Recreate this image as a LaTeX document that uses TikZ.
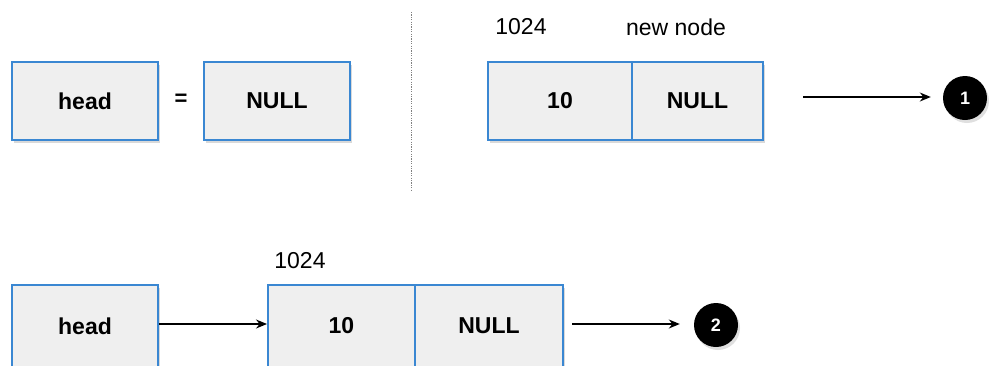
\documentclass[tikz,border=0pt]{standalone}
\usepackage{fontspec}
\setmainfont{Liberation Sans}
\usetikzlibrary{shadows,arrows.meta}
\definecolor{boxblue}{RGB}{58,135,210}
\definecolor{boxfill}{RGB}{239,239,239}
\tikzset{
  cell/.style={draw=boxblue, line width=2pt, fill=boxfill, minimum height=78pt,
    inner sep=0pt, font=\fontsize{23}{27}\selectfont\bfseries,
    drop shadow={shadow xshift=2pt, shadow yshift=-3pt, opacity=0.25, fill=black!60}},
  plain/.style={font=\fontsize{23}{27}\selectfont, inner sep=0pt},
  badge/.style={circle, fill=black, minimum size=44pt, inner sep=0pt,
    text=white, font=\fontsize{18}{20}\selectfont\bfseries,
    drop shadow={shadow xshift=2pt, shadow yshift=-3pt, opacity=0.25}},
  link/.style={line width=1.4pt, -{Stealth[length=11pt,width=9pt]}}
}
\begin{document}
\begin{tikzpicture}[x=1pt,y=-1pt]
\useasboundingbox (0,0) rectangle (989,365);
\clip (0,0) rectangle (989,365);

% first step: empty list
\node[cell, minimum width=146pt] (h1) at (85,101) {head};
\node[font=\fontsize{22}{26}\selectfont\bfseries] (eq) at (181,100) {=};
\node[cell, minimum width=146pt] (null1) at (277,101) {NULL};

% separator
\draw[gray, line width=0.8pt, dash pattern=on 1.2pt off 1.2pt] (411,12) -- (411,190);

% freshly allocated node
\node[cell, minimum width=144pt] (v1) at (560,101) {10};
\node[cell, minimum width=131pt] (n1) at (697.5,101) {NULL};
\node[plain] (addr1) at (521,27) {1024};
\node[plain] (lbl1) at (676,27) {new node};
\coordinate (s1) at (803,97);
\node[badge] (b1) at (965,98) {1};
\draw[link, shorten >=12pt] (s1) -- (s1 -| b1.west);

% second step: head points to the new node
\node[cell, minimum width=146pt, minimum height=82pt] (h2) at (85,326) {head};
\node[cell, minimum width=147pt, minimum height=82pt] (v2) at (341.5,326) {10};
\node[cell, minimum width=148pt, minimum height=82pt] (n2) at (489,326) {NULL};
\node[plain] (addr2) at (300,261) {1024};
\draw[link] (h2.east |- 0,324) -- (v2.west |- 0,324);
\coordinate (s2) at (572,324);
\node[badge] (b2) at (716,325) {2};
\draw[link, shorten >=14pt] (s2) -- (s2 -| b2.west);
\end{tikzpicture}
\end{document}
